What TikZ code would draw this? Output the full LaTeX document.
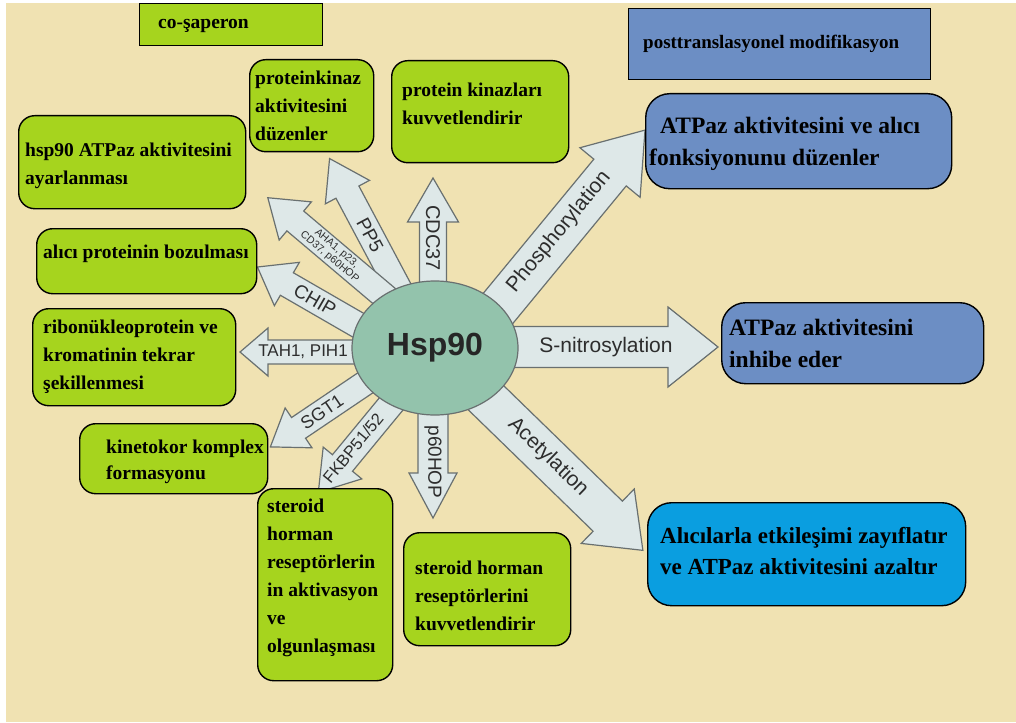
\documentclass[tikz,border=0pt]{standalone}
\usepackage{fontspec}
\setmainfont{Liberation Serif}
\newfontfamily\arialf{Liberation Sans}
\usetikzlibrary{shapes.geometric}
\definecolor{bgbeige}{RGB}{240,226,178}
\definecolor{leafgreen}{RGB}{166,212,30}
\definecolor{steelbluebox}{RGB}{108,142,196}
\definecolor{brightblue}{RGB}{10,158,224}
\definecolor{arrowfill}{RGB}{222,232,232}
\definecolor{arrowline}{RGB}{105,112,112}
\definecolor{hspfill}{RGB}{147,195,172}
\definecolor{lbltext}{RGB}{45,45,45}
% block arrow: start x, start y (px, downwards), angle, length, shaft width, head width, head length
\newcommand\blockarr[7]{%
  \begin{scope}[shift={(#1,-#2)},rotate=#3]
    \draw[barrowstyle] (0,-#5/2) -- ({#4-#7},-#5/2) -- ({#4-#7},-#6/2) -- (#4,0)
      -- ({#4-#7},#6/2) -- ({#4-#7},#5/2) -- (0,#5/2) -- cycle;
  \end{scope}}
\begin{document}
\begin{tikzpicture}[x=1pt,y=1pt,
  barrowstyle/.style={fill=arrowfill, draw=arrowline, line width=1.2pt, line join=miter},
  lbl/.style={text=lbltext, inner sep=0pt, font=\arialf},
  boxbase/.style={draw=black, line width=1.4pt, anchor=north west, inner sep=0pt},
  gbox/.style={boxbase, fill=leafgreen, rounded corners=16pt},
  gsharp/.style={boxbase, fill=leafgreen},
  bbox/.style={boxbase, fill=steelbluebox, rounded corners=24pt},
  bsharp/.style={boxbase, fill=steelbluebox},
  cbox/.style={boxbase, fill=brightblue, rounded corners=24pt},
  gtext/.style={anchor=west, align=left, inner sep=0pt, text=black,
    font=\bfseries\fontsize{19.5}{28}\selectfont},
  btext/.style={gtext, font=\bfseries\fontsize{23.5}{32}\selectfont}
]
\useasboundingbox (0,0) rectangle (1016,-722);
\fill[white] (0,0) rectangle (1016,-722);
\fill[bgbeige] (6,-3) rectangle (1016,-722);

% block arrows out of Hsp90
\blockarr{433}{295}{90}{117}{27}{51}{44}
\blockarr{400}{291}{118}{150}{26}{50}{38}
\blockarr{390}{301}{139.8}{160}{26}{50}{36}
\blockarr{370}{332}{150}{130}{26}{50}{34}
\blockarr{360}{352}{180}{120}{24}{48}{28}
\blockarr{374}{377}{214}{125}{25}{48}{34}
\blockarr{401}{392}{230.5}{130}{26}{50}{38}
\blockarr{433}{400}{270}{118}{30}{48}{45}
\blockarr{486}{323}{50.5}{250}{42}{78}{55}
\blockarr{505}{347}{0}{213}{41}{80}{50}
\blockarr{478}{390}{-44.2}{230}{42}{76}{49}

% arrow labels
\node[lbl, rotate=-90, font=\arialf\fontsize{20}{22}\selectfont] (lcdc) at (433,-238) {CDC37};
\node[lbl, rotate=-62, font=\arialf\fontsize{19}{21}\selectfont] (lpp5) at (370,-235) {PP5};
\node[lbl, rotate=-40.2, align=center, font=\arialf\fontsize{10.5}{11}\selectfont] (laha) at (333,-253) {AHA1, p23,\\CD37, p60HOP};
\node[lbl, rotate=-30, font=\arialf\fontsize{19}{21}\selectfont] (lchip) at (315,-300) {CHIP};
\node[lbl, font=\arialf\fontsize{17}{19}\selectfont] (ltah) at (303,-352) {TAH1, PIH1};
\node[lbl, rotate=34, font=\arialf\fontsize{18}{20}\selectfont] (lsgt) at (322,-412) {SGT1};
\node[lbl, rotate=50.5, font=\arialf\fontsize{16.5}{18}\selectfont] (lfkbp) at (353,-448) {FKBP51/52};
\node[lbl, rotate=-90, font=\arialf\fontsize{19}{21}\selectfont] (lp60) at (433,-462) {p60HOP};
\node[lbl, rotate=50.5, font=\arialf\fontsize{21}{23}\selectfont] (lphos) at (559,-232) {Phosphorylation};
\node[lbl, font=\arialf\fontsize{21}{23}\selectfont] (lnitro) at (606,-347) {S-nitrosylation};
\node[lbl, rotate=-44.2, font=\arialf\fontsize{21}{23}\selectfont] (lacet) at (548,-457) {Acetylation};

% central ellipse
\node[ellipse, draw=arrowline, line width=1.2pt, fill=hspfill, minimum width=166pt, minimum height=134pt,
  inner sep=0pt, text=black!85, font=\arialf\bfseries\fontsize{32}{36}\selectfont] (hsp) at (435,-348) {Hsp90};

% green boxes
\node[gsharp, minimum width=183pt, minimum height=42pt] (cosap) at (139,-3) {};
\node[gtext] (cosap-t) at ([xshift=19pt,yshift=-1pt]cosap.west) {co-şaperon};
\node[gbox, minimum width=124pt, minimum height=92pt] (pkinaz) at (249,-59) {};
\node[gtext] (pkinaz-t) at ([xshift=6pt]pkinaz.west) {proteinkinaz\\aktivitesini\\düzenler};
\node[gbox, minimum width=177pt, minimum height=102pt] (pkuvvet) at (391,-60) {};
\node[gtext] (pkuvvet-t) at ([xshift=11pt,yshift=8pt]pkuvvet.west) {protein kinazları\\kuvvetlendirir};
\node[gbox, minimum width=227pt, minimum height=93pt] (hspatp) at (18,-115) {};
\node[gtext] (hspatp-t) at ([xshift=7pt,yshift=-4pt]hspatp.west) {hsp90 ATPaz aktivitesini\\ayarlanması};
\node[gbox, minimum width=220pt, minimum height=65pt] (alici) at (36,-228) {};
\node[gtext] (alici-t) at ([xshift=7pt,yshift=7pt]alici.west) {alıcı proteinin bozulması};
\node[gbox, minimum width=203pt, minimum height=97pt] (ribo) at (32,-308) {};
\node[gtext] (ribo-t) at ([xshift=11pt]ribo.west) {ribonükleoprotein ve\\kromatinin tekrar\\şekillenmesi};
\node[gbox, minimum width=188pt, minimum height=70pt] (kineto) at (79,-423) {};
\node[gtext, font=\bfseries\fontsize{19.5}{26}\selectfont] (kineto-t) at ([xshift=27pt,yshift=-3pt]kineto.west) {kinetokor komplex\\formasyonu};
\node[gbox, minimum width=135pt, minimum height=192pt] (steroid1) at (257,-488) {};
\node[gtext] (steroid1-t) at ([xshift=10pt,yshift=7pt]steroid1.west) {steroid\\horman\\reseptörlerin\\in aktivasyon\\ve\\olgunlaşması};
\node[gbox, minimum width=167pt, minimum height=113pt] (steroid2) at (403,-532) {};
\node[gtext] (steroid2-t) at ([xshift=12pt,yshift=-7pt]steroid2.west) {steroid horman\\reseptörlerini\\kuvvetlendirir};

% blue boxes
\node[bsharp, minimum width=302pt, minimum height=71pt] (posttr) at (628,-8) {};
\node[gtext, font=\bfseries\fontsize{19}{24}\selectfont] (posttr-t) at ([xshift=15pt]posttr.west) {posttranslasyonel modifikasyon};
\node[bbox, minimum width=306pt, minimum height=95pt] (atpreg) at (645,-93) {};
\node[btext] (atpreg-t) at ([xshift=4pt,yshift=-3pt]atpreg.west) {\hspace*{11pt}ATPaz aktivitesini ve alıcı\\fonksiyonunu düzenler};
\node[bbox, minimum width=262pt, minimum height=81pt] (inhibe) at (721,-302) {};
\node[btext] (inhibe-t) at ([xshift=8pt]inhibe.west) {ATPaz aktivitesini\\inhibe eder};
\node[cbox, minimum width=318pt, minimum height=103pt] (zayif) at (647,-502) {};
\node[btext, font=\bfseries\fontsize{23}{31}\selectfont] (zayif-t) at ([xshift=13pt,yshift=3pt]zayif.west) {Alıcılarla etkileşimi zayıflatır\\ve ATPaz aktivitesini azaltır};
\end{tikzpicture}
\end{document}
